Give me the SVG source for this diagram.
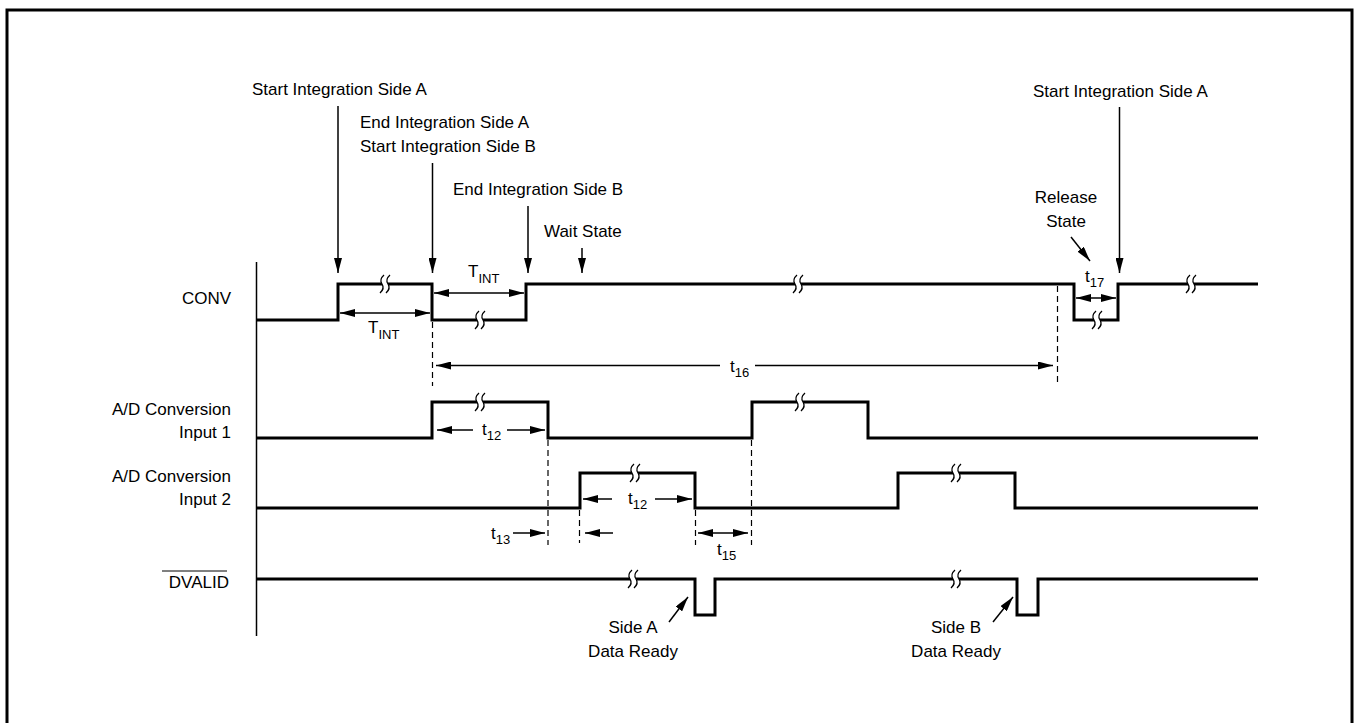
<svg xmlns="http://www.w3.org/2000/svg" xmlns:xlink="http://www.w3.org/1999/xlink" width="1356" height="723" viewBox="0 0 1356 723">
<style>
text{font-family:"Liberation Sans",Arial,sans-serif;font-size:17px;fill:#000}
.sub{font-size:13px}
.wave{fill:none;stroke:#000;stroke-width:3;stroke-linejoin:miter}
.ln{fill:none;stroke:#000;stroke-width:1.5}
.dash{fill:none;stroke:#000;stroke-width:1.2;stroke-dasharray:6,4}
.brk{fill:none;stroke:#000;stroke-width:1.3}
</style>
<defs>
<marker id="ah" markerWidth="15" markerHeight="8" refX="15" refY="4" orient="auto-start-reverse" markerUnits="userSpaceOnUse">
<path d="M0,0 L15,4 L0,8 z" fill="#000"/>
</marker>
<g id="brk">
<rect x="-3" y="-3" width="6" height="6" fill="#fff"/>
<path class="brk" d="M-1,-9 Q-6,-4.5 -3,0 Q0,4.5 -5,9"/>
<path class="brk" d="M5,-9 Q0,-4.5 3,0 Q6,4.5 1,9"/>
</g>
</defs>
<rect x="0" y="0" width="1356" height="723" fill="#fff"/>
<rect x="7" y="10" width="1345" height="740" fill="none" stroke="#000" stroke-width="3"/>
<line x1="256.5" y1="262" x2="256.5" y2="636" stroke="#000" stroke-width="1.5"/>

<g id="conv">
<text x="231" y="304" text-anchor="end">CONV</text>
<polyline class="wave" points="257,320 338,320 338,284 432,284 432,320 526,320 526,284 1074,284 1074,320 1118,320 1118,284 1258,284"/>
<use xlink:href="#brk" x="385" y="284"/>
<use xlink:href="#brk" x="480" y="320"/>
<use xlink:href="#brk" x="798" y="284"/>
<use xlink:href="#brk" x="1097" y="320"/>
<use xlink:href="#brk" x="1191" y="284"/>
</g>

<g id="ad1">
<text x="231" y="415" text-anchor="end">A/D Conversion</text>
<text x="231" y="438" text-anchor="end">Input 1</text>
<polyline class="wave" points="257,438 432,438 432,402 548,402 548,438 752,438 752,402 868,402 868,438 1258,438"/>
<use xlink:href="#brk" x="480" y="402"/>
<use xlink:href="#brk" x="800" y="402"/>
</g>

<g id="ad2">
<text x="231" y="482" text-anchor="end">A/D Conversion</text>
<text x="231" y="505" text-anchor="end">Input 2</text>
<polyline class="wave" points="257,508 580,508 580,473 695,473 695,508 898,508 898,473 1015,473 1015,508 1258,508"/>
<use xlink:href="#brk" x="635" y="473"/>
<use xlink:href="#brk" x="956" y="473"/>
</g>

<g id="dvalid">
<text x="229" y="588" text-anchor="end">DVALID</text>
<line x1="162" y1="571" x2="227" y2="571" stroke="#000" stroke-width="1"/>
<polyline class="wave" points="257,579 695,579 695,615 715,615 715,579 1017,579 1017,615 1038,615 1038,579 1258,579"/>
<use xlink:href="#brk" x="633" y="579"/>
<use xlink:href="#brk" x="956" y="579"/>
</g>

<g id="labels">
<text x="252" y="95">Start Integration Side A</text>
<text x="360" y="128">End Integration Side A</text>
<text x="360" y="152">Start Integration Side B</text>
<text x="453" y="195">End Integration Side B</text>
<text x="544" y="237">Wait State</text>
<text x="1033" y="97">Start Integration Side A</text>
<text x="1066" y="203" text-anchor="middle">Release</text>
<text x="1066" y="227" text-anchor="middle">State</text>
<text x="368" y="333">T<tspan class="sub" dy="6">INT</tspan></text>
<text x="468" y="277">T<tspan class="sub" dy="6">INT</tspan></text>
<text x="1085" y="282">t<tspan class="sub" dy="5">17</tspan></text>
<text x="730" y="372">t<tspan class="sub" dy="5">16</tspan></text>
<text x="482" y="435">t<tspan class="sub" dy="5">12</tspan></text>
<text x="628" y="504">t<tspan class="sub" dy="5">12</tspan></text>
<text x="491" y="539">t<tspan class="sub" dy="5">13</tspan></text>
<text x="717" y="555">t<tspan class="sub" dy="5">15</tspan></text>
<text x="633" y="633" text-anchor="middle">Side A</text>
<text x="633" y="657" text-anchor="middle">Data Ready</text>
<text x="956" y="633" text-anchor="middle">Side B</text>
<text x="956" y="657" text-anchor="middle">Data Ready</text>
</g>

<g id="connectors">
<line class="ln" x1="338" y1="106" x2="338" y2="273" marker-end="url(#ah)"/>
<line class="ln" x1="432.5" y1="163" x2="432.5" y2="273" marker-end="url(#ah)"/>
<line class="ln" x1="528" y1="206" x2="528" y2="273" marker-end="url(#ah)"/>
<line class="ln" x1="582" y1="248" x2="582" y2="273" marker-end="url(#ah)"/>
<line class="ln" x1="1119.5" y1="107" x2="1119.5" y2="273" marker-end="url(#ah)"/>
<line class="ln" x1="1071" y1="237" x2="1090" y2="261" marker-end="url(#ah)"/>
<line class="ln" x1="340" y1="313" x2="430" y2="313" marker-start="url(#ah)" marker-end="url(#ah)"/>
<line class="ln" x1="434" y1="293" x2="524" y2="293" marker-start="url(#ah)" marker-end="url(#ah)"/>
<line class="ln" x1="1076" y1="298" x2="1116" y2="298" marker-start="url(#ah)" marker-end="url(#ah)"/>
<line class="dash" x1="432.5" y1="322" x2="432.5" y2="386"/>
<line class="dash" x1="1057.5" y1="286" x2="1057.5" y2="386"/>
<line class="ln" x1="436" y1="365.5" x2="720" y2="365.5" marker-start="url(#ah)"/>
<line class="ln" x1="755" y1="365.5" x2="1053" y2="365.5" marker-end="url(#ah)"/>
<line class="ln" x1="437" y1="430" x2="473" y2="430" marker-start="url(#ah)"/>
<line class="ln" x1="507" y1="430" x2="545" y2="430" marker-end="url(#ah)"/>
<line class="ln" x1="583" y1="499" x2="612" y2="499" marker-start="url(#ah)"/>
<line class="ln" x1="655" y1="499" x2="692" y2="499" marker-end="url(#ah)"/>
<line class="dash" x1="548" y1="440" x2="548" y2="545"/>
<line class="dash" x1="579.5" y1="510" x2="579.5" y2="543"/>
<line class="dash" x1="695.5" y1="510" x2="695.5" y2="545"/>
<line class="dash" x1="751.5" y1="440" x2="751.5" y2="545"/>
<line class="ln" x1="513" y1="533" x2="545" y2="533" marker-end="url(#ah)"/>
<line class="ln" x1="613" y1="533" x2="585" y2="533" marker-end="url(#ah)"/>
<line class="ln" x1="698" y1="533" x2="748" y2="533" marker-start="url(#ah)" marker-end="url(#ah)"/>
<line class="ln" x1="669" y1="622" x2="688" y2="597" marker-end="url(#ah)"/>
<line class="ln" x1="993" y1="622" x2="1013" y2="597" marker-end="url(#ah)"/>
</g>
</svg>
